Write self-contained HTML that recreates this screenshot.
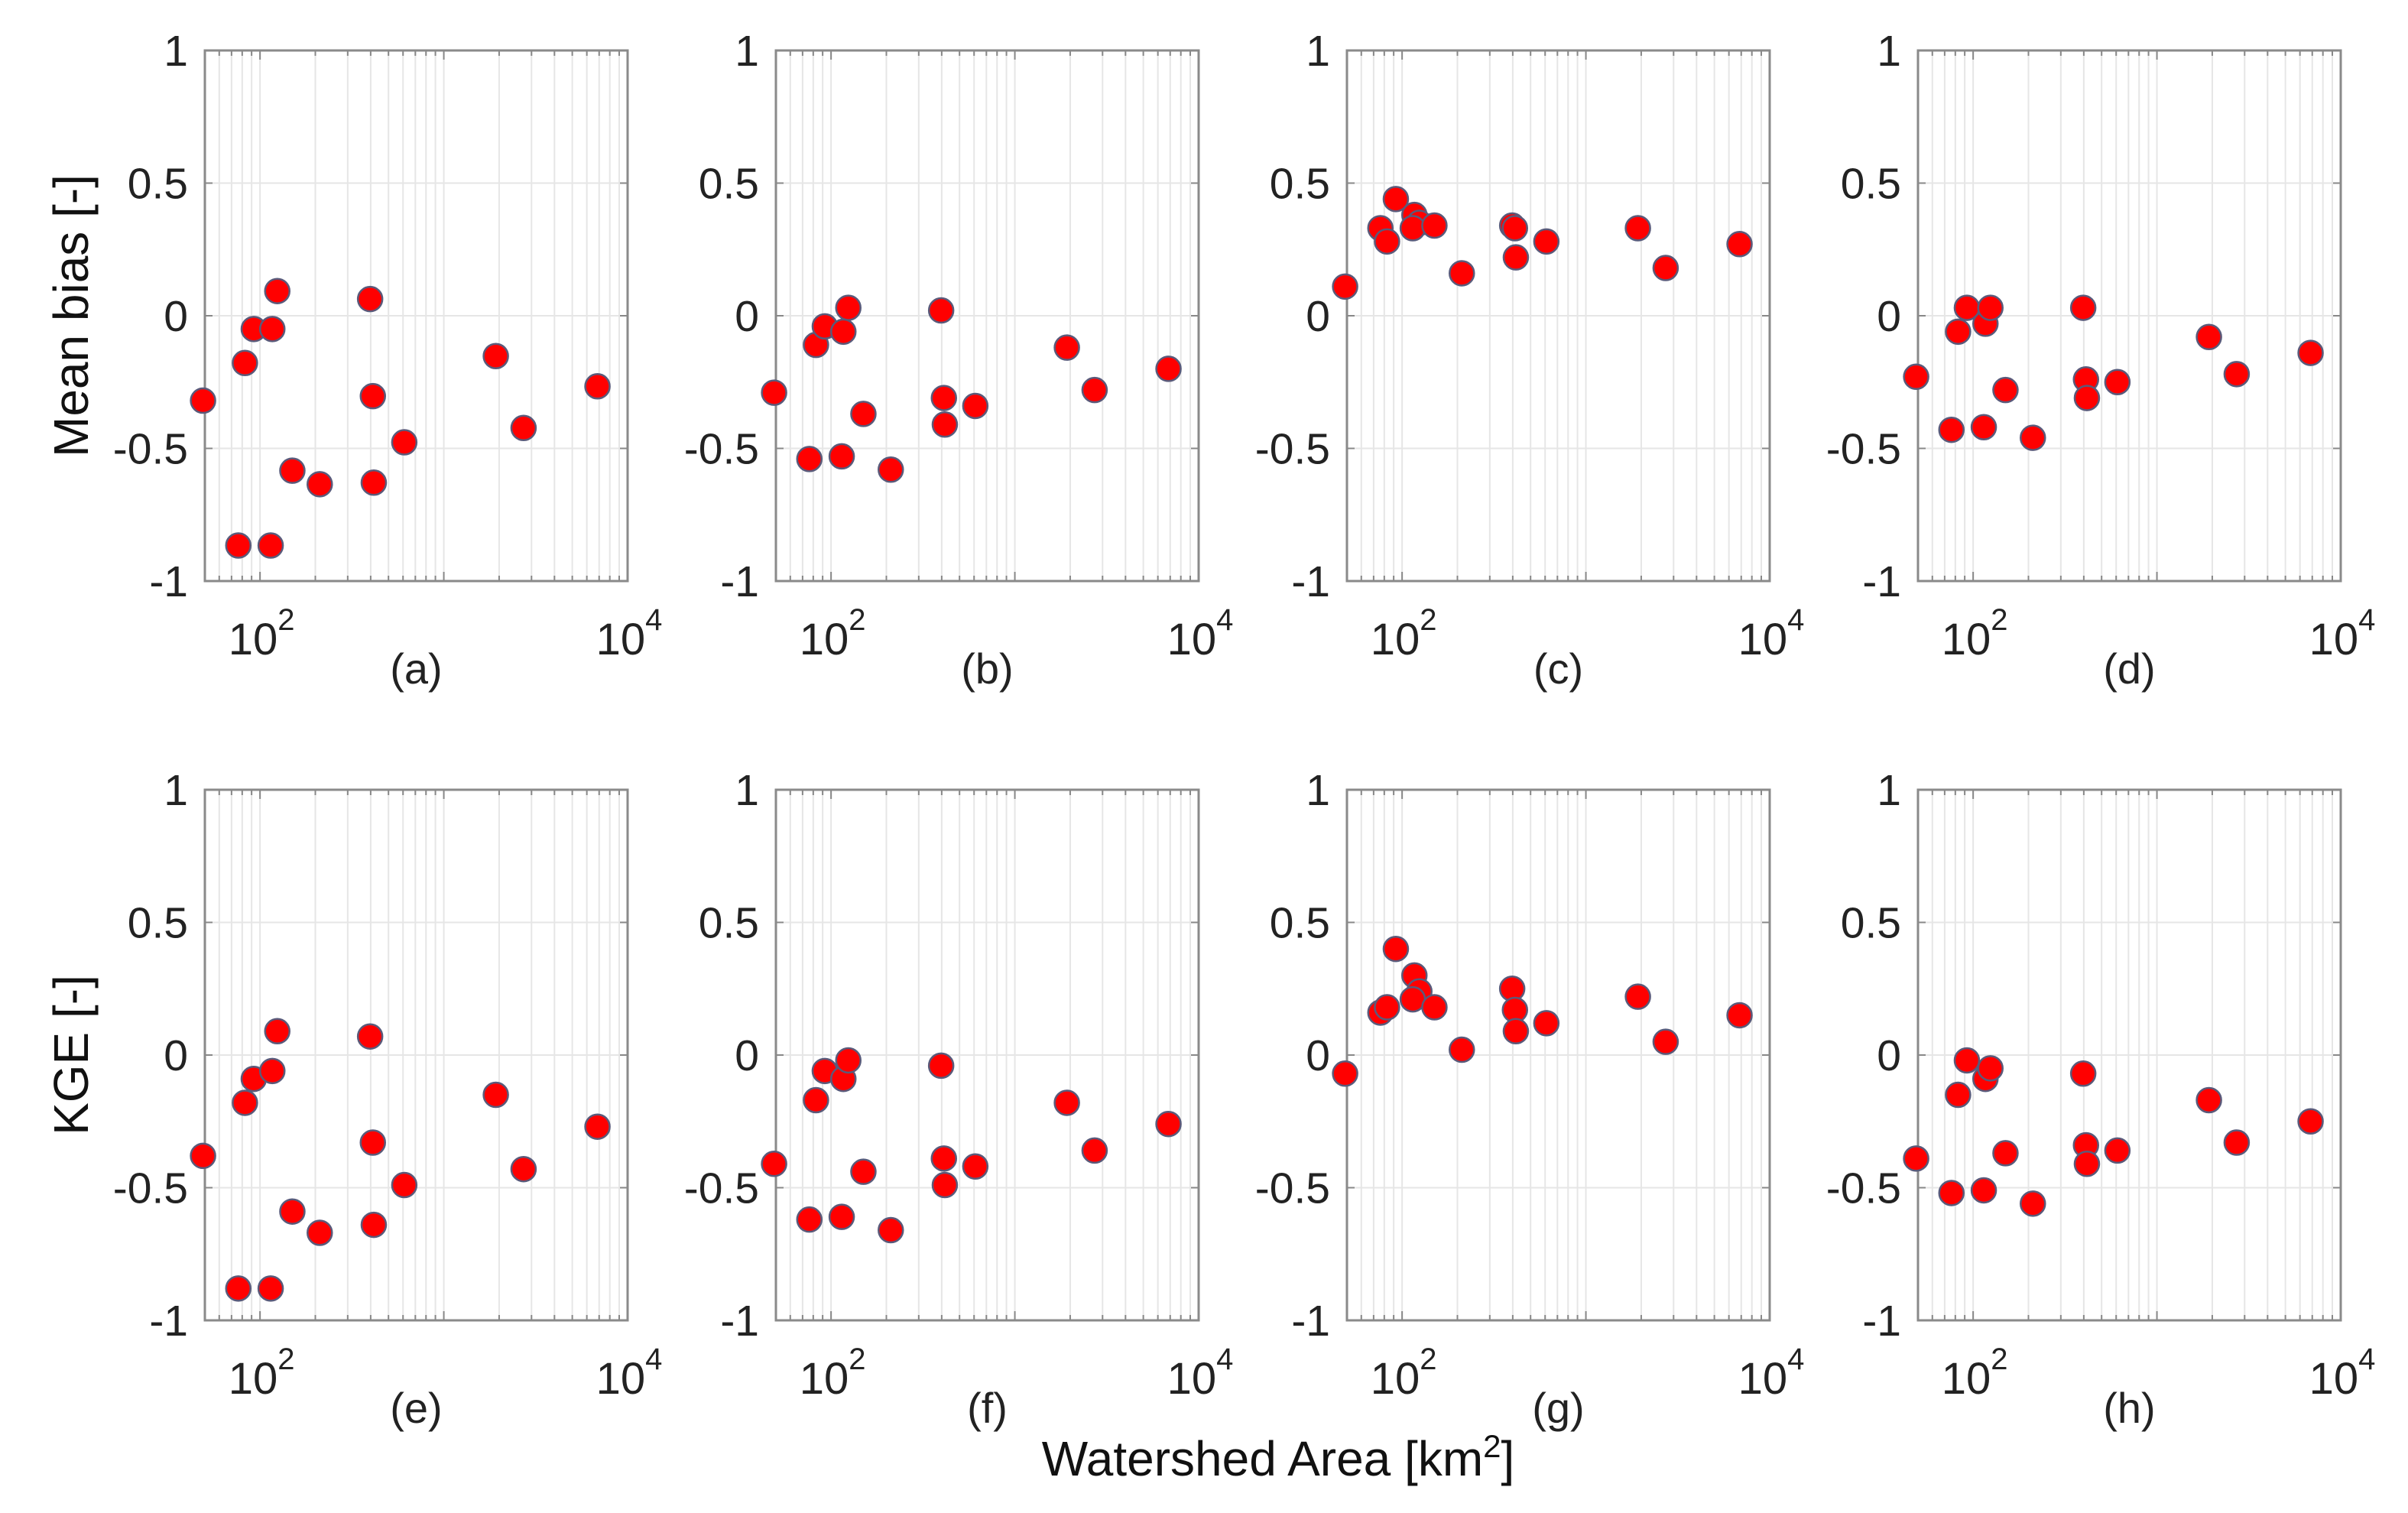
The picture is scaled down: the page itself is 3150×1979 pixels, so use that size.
<!DOCTYPE html>
<html><head><meta charset="utf-8"><style>
html,body{margin:0;padding:0;background:#fff;}
svg{display:block;font-family:"Liberation Sans",sans-serif;}
</style></head><body>
<svg id="fig" width="3150" height="1979" viewBox="0 0 3150 1979" xmlns="http://www.w3.org/2000/svg">
<rect width="3150" height="1979" fill="#fff"/>
<text x="0" y="0" transform="translate(115,413) rotate(-90)" text-anchor="middle" font-size="64" fill="#111">Mean bias [-]</text>
<text x="0" y="0" transform="translate(115,1380) rotate(-90)" text-anchor="middle" font-size="64" fill="#111">KGE [-]</text>
<text x="1672" y="1930" text-anchor="middle" font-size="64" fill="#111">Watershed Area [km<tspan dy="-24" font-size="42">2</tspan><tspan dy="24">]</tspan></text>
</svg>
<script>
const areaLog = [1.69,1.882,1.918,1.966,2.067,2.094,2.058,2.176,2.325,2.599,2.614,2.619,2.785,3.283,3.434,3.836];
const biasA = [-0.32,-0.866,-0.178,-0.05,-0.05,0.093,-0.866,-0.584,-0.635,0.063,-0.303,-0.629,-0.477,-0.152,-0.423,-0.266];
const biasB = [-0.29,-0.54,-0.11,-0.04,-0.06,0.03,-0.53,-0.37,-0.58,0.02,-0.31,-0.41,-0.34,-0.12,-0.28,-0.20];
const biasC = [0.11,0.33,0.28,0.44,0.38,0.35,0.33,0.34,0.16,0.34,0.33,0.22,0.28,0.33,0.18,0.27];
const biasD = [-0.23,-0.43,-0.06,0.03,-0.03,0.03,-0.42,-0.28,-0.46,0.03,-0.24,-0.31,-0.25,-0.08,-0.22,-0.14];
const kgeE = [-0.38,-0.88,-0.18,-0.09,-0.06,0.09,-0.88,-0.59,-0.67,0.07,-0.33,-0.64,-0.49,-0.15,-0.43,-0.27];
const kgeF = [-0.41,-0.62,-0.17,-0.06,-0.09,-0.02,-0.61,-0.44,-0.66,-0.04,-0.39,-0.49,-0.42,-0.18,-0.36,-0.26];
const kgeG = [-0.07,0.16,0.18,0.40,0.30,0.24,0.21,0.18,0.02,0.25,0.17,0.09,0.12,0.22,0.05,0.15];
const kgeH = [-0.39,-0.52,-0.15,-0.02,-0.09,-0.05,-0.51,-0.37,-0.56,-0.07,-0.34,-0.41,-0.36,-0.17,-0.33,-0.25];
const panelLabels = ["(a)","(b)","(c)","(d)","(e)","(f)","(g)","(h)"];
const yTickLabels = ["1","0.5","0","-0.5","-1"];
const yTicks = [1,0.5,0,-0.5,-1];
const xMajor = [2,4];

const series=[biasA,biasB,biasC,biasD,kgeE,kgeF,kgeG,kgeH];
const NS="http://www.w3.org/2000/svg";
const svg=document.getElementById('fig');
function mk(tag,attrs,parent){const e=document.createElementNS(NS,tag);for(const k in attrs)e.setAttribute(k,attrs[k]);(parent||svg).appendChild(e);return e;}
const W=553,H=694,XMIN=1.70,XMAX=4.0;
series.forEach((vals,p)=>{
  const col=p%4,row=Math.floor(p/4);
  const L=268+col*747,T=66+row*967;
  const sx=v=>L+(v-XMIN)/(XMAX-XMIN)*W;
  const sy=v=>T+(1-v)/2*H;
  const g=mk('g',{});
  
  
  for(let d=1;d<=3;d++){for(let m=1;m<=9;m++){const lv=d+Math.log10(m);if(lv<XMIN-1e-6||lv>XMAX+1e-6)continue;const x=sx(lv);
    const gl=mk('line',{x1:x,x2:x,y1:T,y2:T+H,stroke:'#e6e6e6','stroke-width':2},g);
    
    mk('line',{x1:x,x2:x,y1:T+H,y2:T+H-(m===1?12:7),stroke:'#888','stroke-width':2},g);
    mk('line',{x1:x,x2:x,y1:T,y2:T+(m===1?12:7),stroke:'#888','stroke-width':2},g);
  }}
  yTicks.forEach((t,i)=>{const y=sy(t);
    if(t<1&&t>-1){const gl=mk('line',{x1:L,x2:L+W,y1:y,y2:y,stroke:'#e6e6e6','stroke-width':2},g);
      }
    mk('line',{x1:L,x2:L+10,y1:y,y2:y,stroke:'#888','stroke-width':2},g);
    mk('line',{x1:L+W-10,x2:L+W,y1:y,y2:y,stroke:'#888','stroke-width':2},g);
    const tx=mk('text',{x:L-22,y:y+20,'text-anchor':'end','font-size':57,fill:'#222'},g);
    
    tx.textContent=yTickLabels[i];
  });
  const fr=mk('rect',{x:L,y:T,width:W,height:H,fill:'none',stroke:'#8a8a8a','stroke-width':3},g);
  
  xMajor.forEach(e=>{const x=sx(e);
    const tx=mk('text',{x:x+2,y:T+H+96,'text-anchor':'middle','font-size':58,fill:'#222'},g);
    
    tx.textContent='10';
    const sp=mk('tspan',{dy:-32,'font-size':40},tx);sp.textContent=String(e);
  });
  const pl=mk('text',{x:L+W/2,y:T+H+134,'text-anchor':'middle','font-size':56,fill:'#222'},g);
  
  pl.textContent=panelLabels[p];
  vals.forEach((v,i)=>{
    const c=mk('circle',{cx:sx(areaLog[i]),cy:sy(v),r:16,fill:'#ff0000',stroke:'#5a5a7a','stroke-width':2.5},g);
    
    
  });
});
</script>
</body></html>
